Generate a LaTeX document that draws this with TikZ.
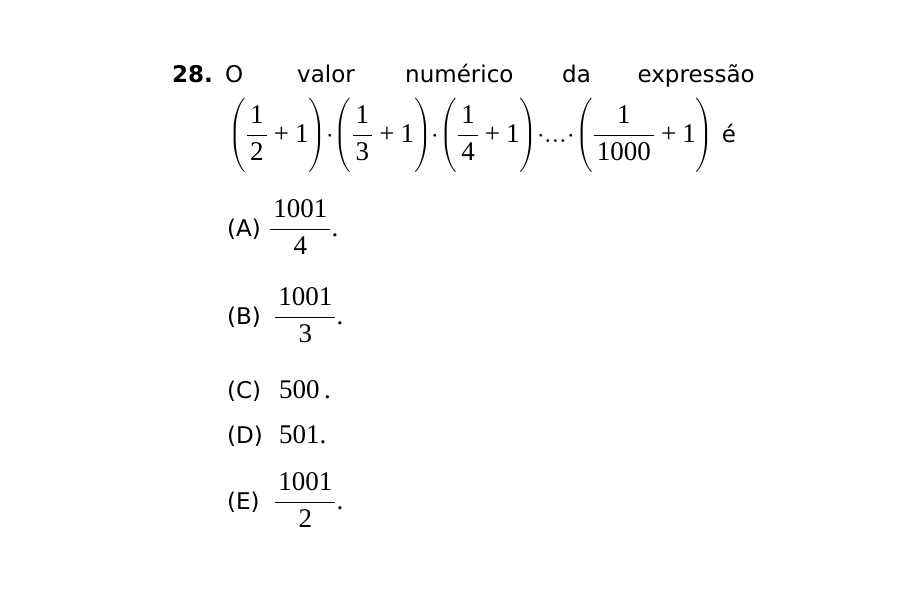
\documentclass[tikz,border=0pt]{standalone}
\usepackage{amsmath}
\usepackage{graphicx}
\usepackage{fontspec}
\usepackage{unicode-math}
\setmathfont{Latin Modern Math}
\setmathfont{Liberation Serif}[range={up/num,"2B,"2E}]
\newfontfamily\qfont{DejaVu Sans}
\newcommand{\fr}[2]{\frac{\mkern2mu#1\mkern2mu}{\mkern2mu#2\mkern2mu}}
\newcommand{\lpar}{\mathopen{\vcenter{\hbox{\scalebox{0.75}[0.92]{$\Biggl($}}}}}
\newcommand{\rpar}{\mathclose{\vcenter{\hbox{\scalebox{0.75}[0.92]{$\Biggr)$}}}}}
\usetikzlibrary{positioning}
\tikzset{qtext/.style={inner sep=0pt, anchor=base west, font=\qfont\fontsize{23}{27}\selectfont},
  qmath/.style={inner sep=0pt, anchor=base west, font=\fontsize{27}{32}\selectfont}}

\begin{document}
\begin{tikzpicture}[x=1pt,y=-1pt]
\useasboundingbox (0,0) rectangle (900,600);

%Question number and first line
\node [qtext] (num) at (172,82) {\bfseries 28.};
\node [qtext] (w1) at (225,82) {O};
\node [qtext] (w2) at (297,82) {valor};
\node [qtext] (w3) at (405,82) {num\'erico};
\node [qtext] (w4) at (562,82) {da};
\node [qtext, anchor=base east] (w5) at (755,82) {express\~ao};
%Expression
\node [qmath] (expr) at (228,142) {$\displaystyle\lpar\fr{1}{2}+1\rpar{\cdot}\lpar\fr{1}{3}+1\rpar{\cdot}\lpar\fr{1}{4}+1\rpar{\cdot}{\ldots}{\cdot}\lpar\fr{1}{1000}+1\rpar$};
\node [qtext] (verb) at ([xshift=8pt]expr.base east) {\'e};

%Options
\node [qtext] (la) at (227,236) {(A)};
\node [qmath] (oa) at (269,236) {$\displaystyle\fr{1001}{4}.$};
\node [qtext] (lb) at (227,324) {(B)};
\node [qmath] (ob) at (274,324) {$\displaystyle\fr{1001}{3}.$};
\node [qtext] (lc) at (227,398) {(C)};
\node [qmath] (oc) at (279,398) {$500\,.$};
\node [qtext] (ld) at (227,443) {(D)};
\node [qmath] (od) at (279,443) {$501.$};
\node [qtext] (le) at (227,509) {(E)};
\node [qmath] (oe) at (274,509) {$\displaystyle\fr{1001}{2}.$};
\end{tikzpicture}
\end{document}
